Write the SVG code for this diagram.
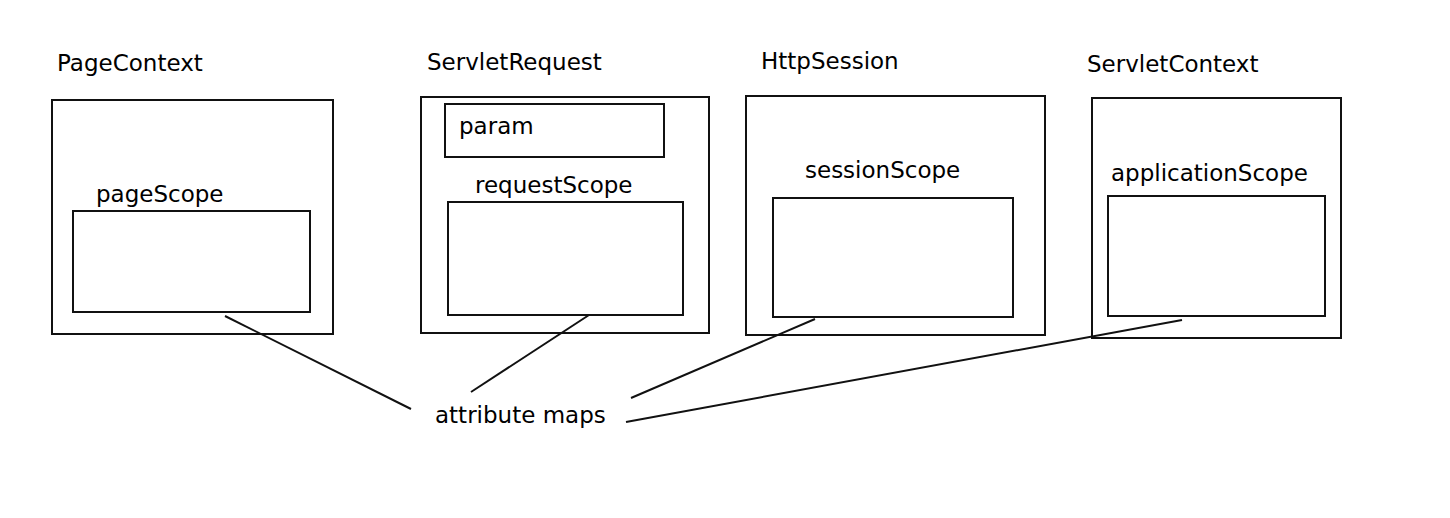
<svg xmlns="http://www.w3.org/2000/svg" width="1450" height="518" viewBox="0 0 1450 518">
<style>
.box{fill:none;stroke:#111;stroke-width:2}
.lbl{font-family:"DejaVu Sans",Verdana,sans-serif;font-size:23px;fill:#000}
.con{stroke:#111;stroke-width:2;fill:none}
</style>
<rect width="1450" height="518" fill="#fff"/>
<g id="pageContext">
<text class="lbl" x="57" y="71">PageContext</text>
<rect class="box" x="52" y="100" width="281" height="234"/>
<text class="lbl" x="96" y="202">pageScope</text>
<rect class="box" x="73" y="211" width="237" height="101"/>
</g>
<g id="servletRequest">
<text class="lbl" x="427" y="70">ServletRequest</text>
<rect class="box" x="421" y="97" width="288" height="236"/>
<rect class="box" x="445" y="104" width="219" height="53"/>
<text class="lbl" x="459" y="134">param</text>
<text class="lbl" x="475" y="193">requestScope</text>
<rect class="box" x="448" y="202" width="235" height="113"/>
</g>
<g id="httpSession">
<text class="lbl" x="761" y="69">HttpSession</text>
<rect class="box" x="746" y="96" width="299" height="239"/>
<text class="lbl" x="805" y="178">sessionScope</text>
<rect class="box" x="773" y="198" width="240" height="119"/>
</g>
<g id="servletContext">
<text class="lbl" x="1087" y="72">ServletContext</text>
<rect class="box" x="1092" y="98" width="249" height="240"/>
<text class="lbl" x="1111" y="181">applicationScope</text>
<rect class="box" x="1108" y="196" width="217" height="120"/>
</g>
<g id="attributeMaps">
<text class="lbl" x="435" y="423">attribute maps</text>
</g>
<g id="connectors">
<line class="con" x1="225" y1="316" x2="411" y2="409"/>
<line class="con" x1="589" y1="315" x2="471" y2="392"/>
<line class="con" x1="815" y1="319" x2="631" y2="398"/>
<line class="con" x1="1182" y1="320" x2="626" y2="422"/>
</g>
</svg>
